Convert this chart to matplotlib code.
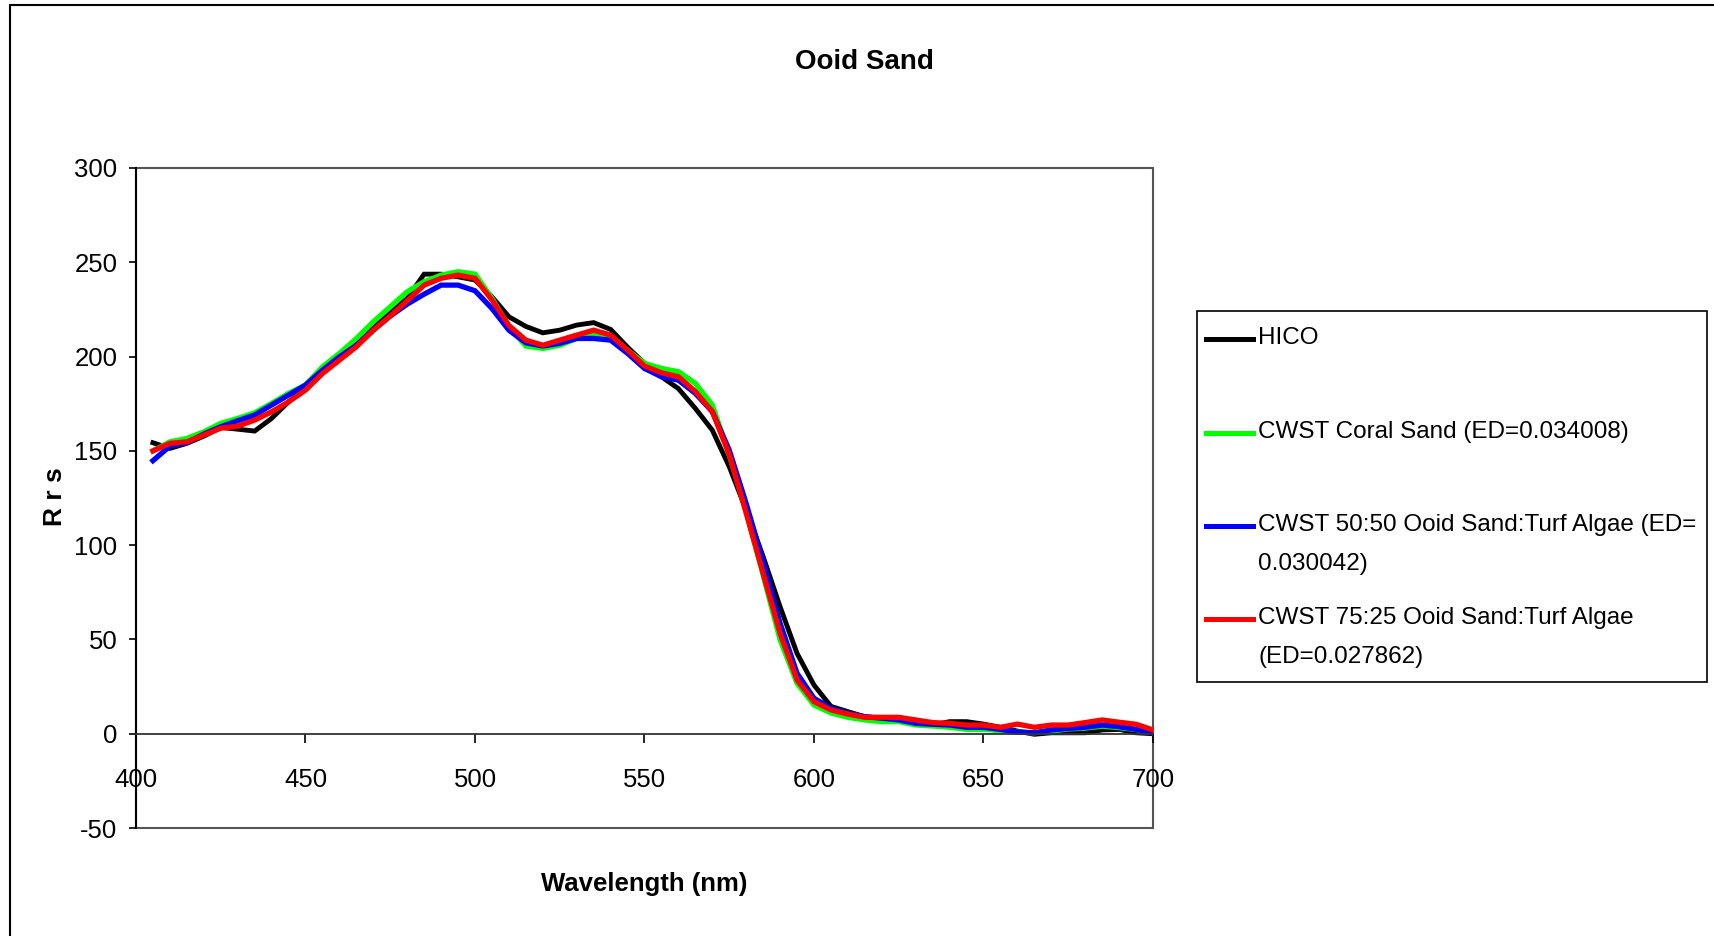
import numpy as np
import matplotlib
matplotlib.use('Agg')
import matplotlib.pyplot as plt
from matplotlib.patches import Rectangle
from matplotlib.lines import Line2D

plt.rcParams['font.family'] = ['Liberation Sans', 'DejaVu Sans']
plt.rcParams['axes.unicode_minus'] = False

wavelength = np.arange(405, 701, 5)

hico = [154.3, 151.3, 154.0, 157.8, 162.4, 161.5, 160.5, 167.2, 176.0, 183.1,
        192.0, 199.0, 207.0, 215.8, 223.2, 230.9, 243.7, 243.7, 242.3, 240.6,
        231.7, 221.1, 216.0, 212.6, 214.0, 216.7, 218.0, 214.4, 205.0, 196.4,
        189.3, 183.0, 172.5, 161.0, 141.6, 118.6, 93.9, 67.3, 42.6, 25.8,
        14.5, 11.7, 9.0, 8.2, 7.3, 5.5, 4.6, 6.4, 6.4, 5.1,
        3.4, 1.4, -0.3, 0.5, 0.5, 0.5, 2.0, 2.3, 0.5, 0.0]

coral_sand = [150.0, 154.8, 156.6, 160.1, 164.6, 167.2, 170.2, 175.2, 180.5, 184.9,
              194.6, 201.7, 209.6, 218.5, 226.4, 234.4, 239.7, 243.2, 245.0, 243.7,
              230.9, 215.8, 205.6, 204.3, 206.0, 209.6, 211.4, 210.9, 203.4, 196.4,
              193.7, 192.0, 185.8, 174.3, 148.0, 118.0, 84.0, 49.7, 26.7, 15.2,
              11.0, 8.7, 7.3, 6.4, 6.4, 4.6, 4.1, 3.4, 2.3, 2.3,
              1.6, 0.9, 0.5, 1.5, 2.5, 3.0, 4.0, 3.2, 2.2, 0.5]

mix_50_50 = [144.8, 152.5, 154.3, 158.9, 162.8, 166.0, 169.0, 174.3, 179.6, 184.9,
             192.8, 199.9, 206.0, 214.0, 221.5, 227.8, 233.1, 237.9, 237.9, 234.9,
             225.5, 214.0, 207.3, 205.6, 207.0, 209.6, 209.6, 208.7, 201.7, 193.7,
             189.3, 187.5, 180.5, 170.8, 150.4, 122.0, 91.2, 58.5, 32.0, 18.8,
             13.5, 10.8, 9.0, 8.2, 7.3, 5.5, 5.0, 4.6, 3.4, 3.4,
             2.3, 0.9, 0.5, 2.0, 2.8, 3.4, 4.6, 3.7, 2.3, 0.5]

mix_75_25 = [150.0, 154.0, 154.8, 158.4, 162.0, 163.1, 166.3, 170.7, 176.0, 182.2,
             191.0, 198.1, 205.2, 214.0, 221.5, 229.6, 237.9, 241.5, 243.2, 241.5,
             230.0, 216.5, 208.7, 206.0, 208.7, 211.4, 214.0, 211.4, 203.4, 195.0,
             191.4, 189.3, 181.5, 170.8, 148.0, 116.9, 85.0, 53.2, 28.5, 17.0,
             12.6, 10.4, 8.7, 8.7, 8.7, 7.3, 5.9, 5.5, 4.6, 4.6,
             3.4, 5.1, 3.4, 4.6, 4.6, 5.9, 7.3, 6.1, 5.0, 2.0]

labels = ['HICO',
          'CWST Coral Sand (ED=0.034008)',
          'CWST 50:50 Ooid Sand:Turf Algae (ED=\n0.030042)',
          'CWST 75:25 Ooid Sand:Turf Algae\n(ED=0.027862)']
colors = ['#000000', '#00ff00', '#0000ff', '#ff0000']
series = [hico, coral_sand, mix_50_50, mix_75_25]

W, H = 1714, 936
fig = plt.figure(figsize=(W / 100, H / 100), dpi=100)
ax = fig.add_axes([136 / W, 1 - 828 / H, (1153 - 136) / W, (828 - 168) / H])

for vals, c in zip(series, colors):
    ax.plot(wavelength, vals, color=c, lw=3.8 if c != '#000000' else 3.5,
            solid_joinstyle='miter')

ax.set_xlim(400, 700)
ax.set_ylim(-50, 300)
ax.set_xticks(range(400, 701, 50))
ax.set_yticks(range(-50, 301, 50))

ax.spines['bottom'].set_position(('data', 0))
ax.spines['bottom'].set_color('#333333')
ax.spines['bottom'].set_linewidth(1.3)
ax.spines['left'].set_linewidth(1.5)
ax.spines['top'].set_visible(False)
ax.spines['right'].set_visible(False)
ax.add_patch(Rectangle((0, 0), 1, 1, transform=ax.transAxes, fill=False,
                       edgecolor='#555555', lw=1.5, clip_on=False))

ax.tick_params(axis='y', direction='out', length=5, width=1.2, pad=8.5,
               labelsize=18.5)
ax.tick_params(axis='x', direction='out', length=6.5, width=1.2, pad=18.5,
               labelsize=18.5)

fig.text(864 / W, 1 - 62 / H, 'Ooid Sand', ha='center', va='center',
         fontsize=20, fontweight='bold')
fig.text(644 / W, 1 - 884 / H, 'Wavelength (nm)', ha='center', va='center',
         fontsize=18.5, fontweight='bold')
fig.text(55 / W, 1 - 497 / H, 'R r s', ha='center', va='center',
         fontsize=19, fontweight='bold', rotation=90)

# legend drawn by hand to follow the uneven spacing of the original
fig.add_artist(Rectangle((1197 / W, 1 - 682 / H), (1707 - 1197) / W, (682 - 311) / H,
                         transform=fig.transFigure, fill=False, edgecolor='black', lw=1.2))
entry_y = [339, 433, 526, 619]
for lab, c, y in zip(labels, colors, entry_y):
    fig.add_artist(Line2D([1206 / W, 1253 / W], [1 - y / H, 1 - y / H],
                          transform=fig.transFigure, color=c, lw=3.6))
    fig.text(1258 / W, 1 - (y - 12) / H, lab, ha='left', va='top', fontsize=17.5,
             linespacing=2.0)

# outer chart border (top and left edges visible)
fig.add_artist(Rectangle((10 / W, -0.1), 1.2, 1.1 - 5 / H, transform=fig.transFigure,
                         fill=False, edgecolor='black', lw=1.5))

fig.savefig('out.png', dpi=100)
